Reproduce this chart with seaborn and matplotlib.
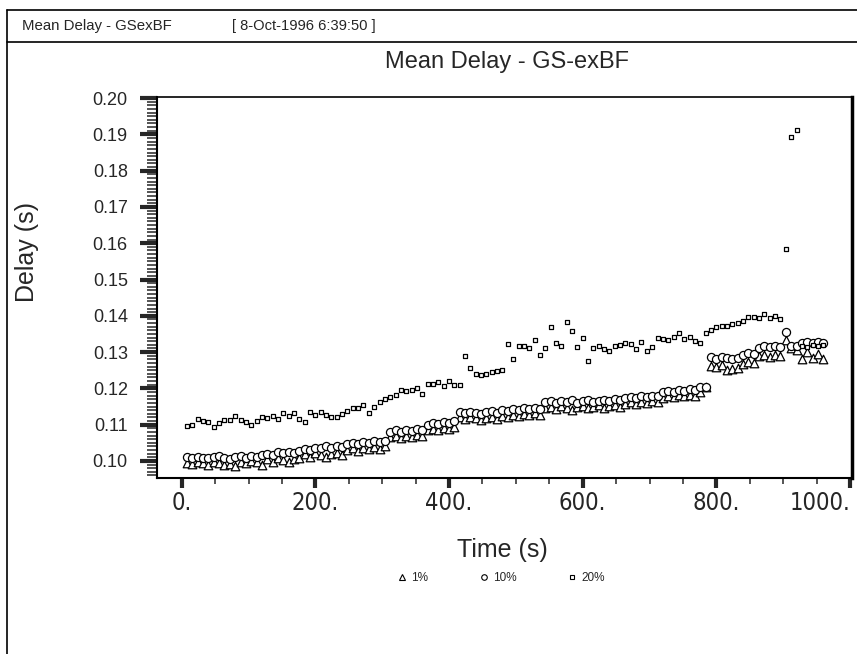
import numpy as np
import pandas as pd
import seaborn as sns
import matplotlib
matplotlib.use("Agg")
import matplotlib.pyplot as plt
from matplotlib.lines import Line2D
from matplotlib.ticker import MultipleLocator, FuncFormatter

# Dados (tempo de amostragem a cada 8 s)
tempo = list(range(8, 961, 8))

atraso_1 = [
    0.0995, 0.0991, 0.0997, 0.0993, 0.0990, 0.0996, 0.0994, 0.0988, 0.0992, 0.0985,
    0.0997, 0.0993, 0.0999, 0.0996, 0.0990,
    0.1004, 0.0998, 0.1007, 0.1002, 0.0996, 0.1005, 0.1009,
    0.1018, 0.1012, 0.1021, 0.1016, 0.1010, 0.1019, 0.1023, 0.1017,
    0.1031, 0.1035, 0.1028, 0.1036, 0.1032, 0.1038, 0.1034, 0.1040,
    0.1066, 0.1069, 0.1063, 0.1070, 0.1067, 0.1072, 0.1068,
    0.1086, 0.1089, 0.1084, 0.1092, 0.1088, 0.1094,
    0.1120, 0.1115, 0.1121, 0.1117, 0.1113, 0.1119, 0.1122, 0.1116,
    0.1124, 0.1120, 0.1128, 0.1125, 0.1130, 0.1126, 0.1131, 0.1128,
    0.1147, 0.1150, 0.1143, 0.1151, 0.1146, 0.1140, 0.1148, 0.1152, 0.1145, 0.1149,
    0.1153, 0.1147, 0.1151, 0.1155, 0.1150,
    0.1158, 0.1162, 0.1157, 0.1163, 0.1160, 0.1165, 0.1162,
    0.1174, 0.1178, 0.1175, 0.1181, 0.1178, 0.1183, 0.1180, 0.1190,
    0.1205,
    0.1262, 0.1258, 0.1264, 0.1250, 0.1253, 0.1256,
    0.1268, 0.1274, 0.1271,
    0.1288, 0.1292, 0.1286, 0.1291, 0.1289,
    0.1334,
    0.1310, 0.1306,
    0.1282, 0.1300, 0.1283, 0.1295, 0.1281,
]

atraso_10 = [
    0.1011, 0.1008, 0.1012, 0.1009, 0.1007, 0.1011, 0.1013, 0.1009, 0.1006, 0.1010,
    0.1013, 0.1009, 0.1015, 0.1012, 0.1016,
    0.1020, 0.1017, 0.1024, 0.1021, 0.1026, 0.1023, 0.1028,
    0.1034, 0.1031, 0.1037, 0.1035, 0.1040, 0.1036, 0.1041, 0.1038,
    0.1046, 0.1050, 0.1047, 0.1053, 0.1049, 0.1055, 0.1052, 0.1056,
    0.1080, 0.1084, 0.1081, 0.1086, 0.1083, 0.1087, 0.1085,
    0.1100, 0.1104, 0.1102, 0.1107, 0.1105, 0.1109,
    0.1135, 0.1131, 0.1136, 0.1133, 0.1130, 0.1134, 0.1137, 0.1132,
    0.1140, 0.1137, 0.1143, 0.1141, 0.1145, 0.1142, 0.1146, 0.1144,
    0.1162, 0.1165, 0.1160, 0.1166, 0.1163, 0.1167, 0.1161, 0.1165, 0.1168, 0.1163,
    0.1166, 0.1169, 0.1165, 0.1170, 0.1167,
    0.1174, 0.1177, 0.1173, 0.1178, 0.1176, 0.1180, 0.1178,
    0.1189, 0.1192, 0.1190, 0.1195, 0.1193, 0.1197, 0.1195, 0.1203,
    0.1205,
    0.1286, 0.1282, 0.1287, 0.1283, 0.1280, 0.1285,
    0.1293, 0.1297, 0.1295,
    0.1312, 0.1316, 0.1314, 0.1317, 0.1315,
    0.1356,
    0.1318, 0.1316,
    0.1326, 0.1329, 0.1325, 0.1328, 0.1324,
]

atraso_20 = [
    0.1096, 0.1099, 0.1115, 0.1110, 0.1106, 0.1094, 0.1104, 0.1112, 0.1113, 0.1124,
    0.1112, 0.1106, 0.1100, 0.1110, 0.1121, 0.1118, 0.1125, 0.1116, 0.1131, 0.1124,
    0.1132, 0.1115, 0.1107, 0.1136, 0.1126, 0.1135, 0.1128, 0.1121, 0.1120, 0.1129,
    0.1138, 0.1145, 0.1146, 0.1154, 0.1131, 0.1150, 0.1163, 0.1170, 0.1177, 0.1181,
    0.1195, 0.1194, 0.1196, 0.1200, 0.1184, 0.1212, 0.1211, 0.1218, 0.1206, 0.1220,
    0.1210, 0.1208,
    0.1290, 0.1256, 0.1240, 0.1237, 0.1239, 0.1244, 0.1249, 0.1252,
    0.1321, 0.1281, 0.1316, 0.1318, 0.1312, 0.1333, 0.1292, 0.1311, 0.1370, 0.1325,
    0.1317, 0.1382, 0.1357, 0.1315, 0.1340, 0.1275, 0.1312, 0.1316, 0.1308, 0.1303,
    0.1318, 0.1320, 0.1325, 0.1322, 0.1309, 0.1328, 0.1304, 0.1313, 0.1338, 0.1335,
    0.1332, 0.1341, 0.1352, 0.1337, 0.1342, 0.1330, 0.1325, 0.1352, 0.1362, 0.1368,
    0.1373, 0.1371, 0.1378, 0.1380, 0.1387, 0.1398, 0.1396, 0.1393, 0.1404, 0.1395,
    0.1399, 0.1391, 0.1583, 0.1893, 0.1912, 0.1318, 0.1315, 0.1320, 0.1316, 0.1319,
]

rotulos = ['1%', '10%', '20%']

dados = pd.DataFrame({'tempo': tempo, '1%': atraso_1, '10%': atraso_10, '20%': atraso_20})

sns.set_style('white')
plt.rcParams['font.family'] = ['Liberation Sans', 'DejaVu Sans']

fig = plt.figure(figsize=(8.57, 6.54), dpi=100)
ax = fig.add_axes([157 / 857, 176 / 654, 695 / 857, 381 / 654])

estilos = {
    '1%': dict(marker='^', s=38),
    '10%': dict(marker='o', s=34),
    '20%': dict(marker='s', s=11),
}
for r in rotulos:
    sns.scatterplot(data=dados, x='tempo', y=r, ax=ax, facecolor='white',
                    edgecolor='black', linewidth=0.9, label=r, legend=False,
                    zorder=3, **estilos[r])

ax.set_xlim(-37, 1003)
ax.set_ylim(0.0953, 0.2003)
ax.set_xlabel('')
ax.set_ylabel('')

ax.yaxis.set_major_locator(MultipleLocator(0.01))
ax.yaxis.set_minor_locator(MultipleLocator(0.001))
ax.xaxis.set_major_locator(MultipleLocator(200))
ax.xaxis.set_minor_locator(MultipleLocator(50))
ax.yaxis.set_major_formatter(FuncFormatter(lambda v, p: f'{v:.2f}'))
ax.xaxis.set_major_formatter(FuncFormatter(lambda v, p: f'{v:.0f}.'))

ax.tick_params(axis='y', which='major', direction='out', length=12.5, width=3,
               labelsize=13, pad=8.5, left=True)
ax.tick_params(axis='y', which='minor', direction='out', length=7, width=1.1, left=True)
ax.tick_params(axis='x', which='major', direction='out', length=7.5, width=3,
               labelsize=17, pad=2, bottom=True)
ax.tick_params(axis='x', which='minor', direction='out', length=4.5, width=1.1, bottom=True)

for lado, lw in [('left', 1.5), ('bottom', 1.5), ('top', 1.2), ('right', 2.5)]:
    ax.spines[lado].set_visible(True)
    ax.spines[lado].set_color('black')
    ax.spines[lado].set_linewidth(lw)

# rotulos do eixo x mais estreitos, e o de 1000 encostado na borda direita
fig.canvas.draw()
for lab in ax.get_xticklabels():
    lab.set_family(['DejaVu Sans', 'Liberation Sans'])
    lab.set_fontstretch('condensed')
    lab.set_fontsize(17)
    if lab.get_text() == '1000.':
        lab.set_horizontalalignment('right')

# Textos
fig.text(22 / 857, 1 - 26 / 654, 'Mean Delay - GSexBF', fontsize=10.8, va='center')
fig.text(232 / 857, 1 - 26 / 654, '[ 8-Oct-1996 6:39:50 ]', fontsize=10.6, va='center')
fig.text(507 / 857, 1 - 62 / 654, 'Mean Delay - GS-exBF', fontsize=17, ha='center', va='center')
fig.text(27 / 857, 1 - 252 / 654, 'Delay (s)', fontsize=18, rotation=90, ha='center', va='center')
fig.text(502 / 857, 1 - 550 / 654, 'Time (s)', fontsize=18, ha='center', va='center')

# Bordas do quadro
fig.add_artist(Line2D([7 / 857, 1], [1 - 10 / 654, 1 - 10 / 654], color='black', lw=1.2))
fig.add_artist(Line2D([7 / 857, 1], [1 - 42 / 654, 1 - 42 / 654], color='black', lw=1.2))
fig.add_artist(Line2D([7 / 857, 7 / 857], [0, 1 - 10 / 654], color='black', lw=1.2))

# Legenda
marcas = [Line2D([], [], linestyle='', marker=estilos[r]['marker'], markersize=ms,
                 markerfacecolor='white', markeredgecolor='black', markeredgewidth=0.8)
          for r, ms in zip(rotulos, [4, 4, 3])]
fig.legend(marcas, rotulos, loc='center', bbox_to_anchor=(501 / 857, 1 - 578 / 654),
           ncol=3, frameon=False, fontsize=8.5, handlelength=0.8, handletextpad=0.4,
           columnspacing=4.3)

fig.savefig('out.png', dpi=100)
